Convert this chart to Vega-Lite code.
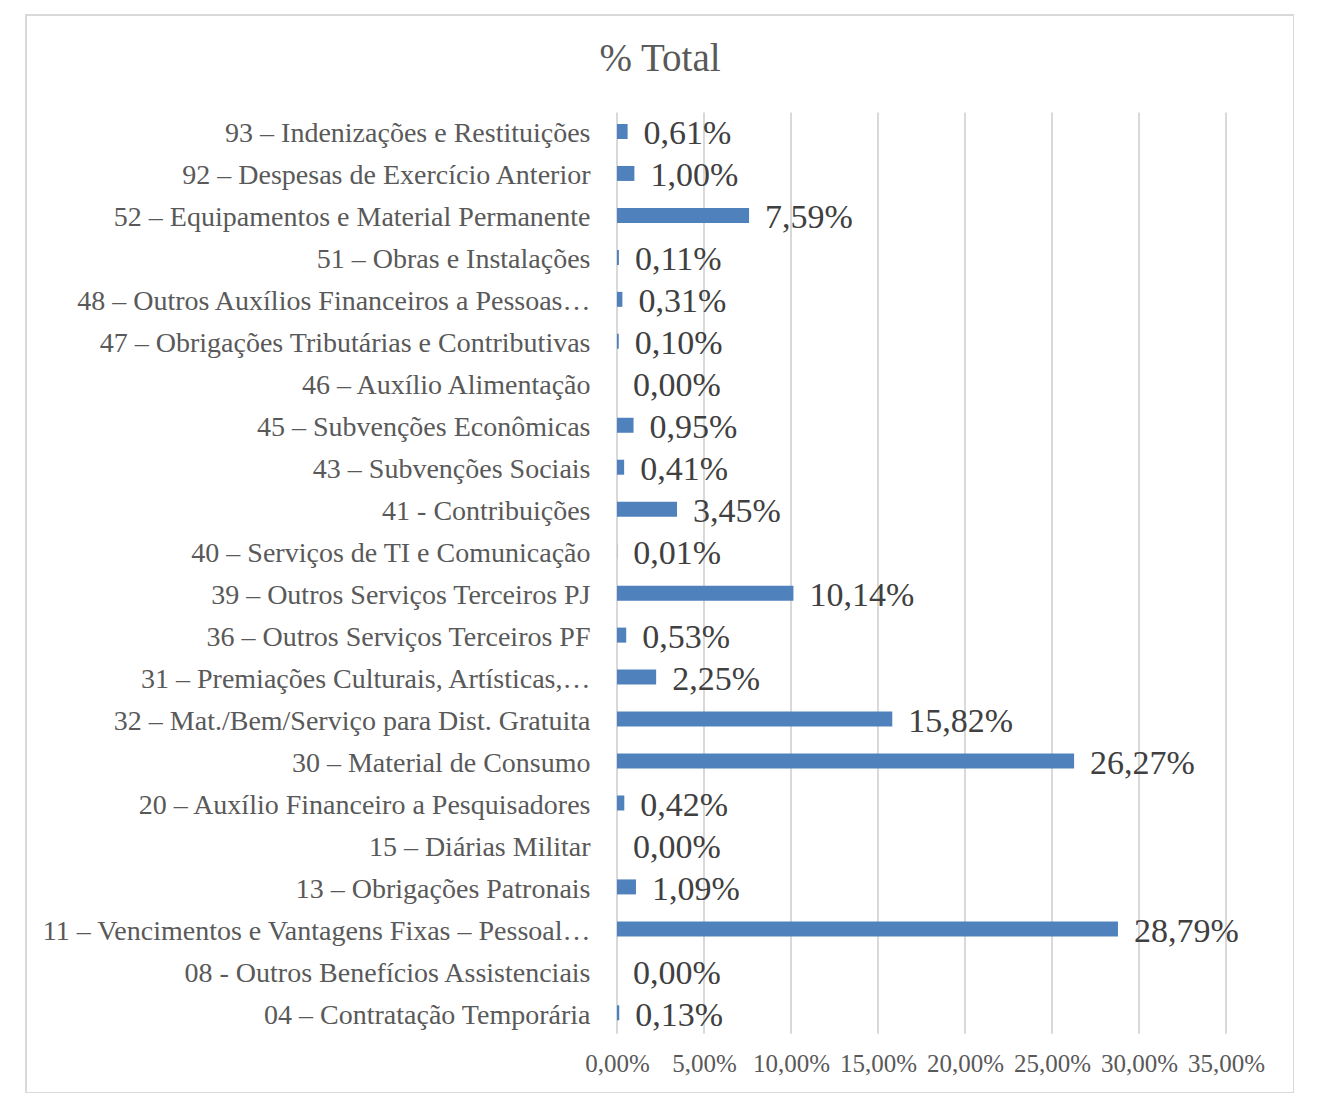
{
  "$schema": "https://vega.github.io/schema/vega-lite/v6.json",
  "autosize": {"type": "none"},
  "width": 1268,
  "height": 1078,
  "padding": {"left": 26, "top": 15, "right": 0, "bottom": 0},
  "background": "white",
  "title": {
    "text": "% Total",
    "font": "Liberation Serif",
    "fontSize": 39,
    "fontWeight": "normal",
    "color": "#595959",
    "anchor": "middle",
    "offset": -64
  },
  "config": {
    "locale": {"number": {"decimal": ",", "thousands": ".", "grouping": [3], "currency": ["R$", ""]}},
    "view": {"stroke": "#d9d9d9", "strokeWidth": 2}
  },
  "datasets": {
    "gastos": [
      {"categoria": "93 – Indenizações e Restituições", "share": 0.0061},
      {"categoria": "92 – Despesas de Exercício Anterior", "share": 0.0100},
      {"categoria": "52 – Equipamentos e Material Permanente", "share": 0.0759},
      {"categoria": "51 – Obras e Instalações", "share": 0.0011},
      {"categoria": "48 – Outros Auxílios Financeiros a Pessoas…", "share": 0.0031},
      {"categoria": "47 – Obrigações Tributárias e Contributivas", "share": 0.0010},
      {"categoria": "46 – Auxílio Alimentação", "share": 0.0},
      {"categoria": "45 – Subvenções Econômicas", "share": 0.0095},
      {"categoria": "43 – Subvenções Sociais", "share": 0.0041},
      {"categoria": "41 - Contribuições", "share": 0.0345},
      {"categoria": "40 – Serviços de TI e Comunicação", "share": 0.0001},
      {"categoria": "39 – Outros Serviços Terceiros PJ", "share": 0.1014},
      {"categoria": "36 – Outros Serviços Terceiros PF", "share": 0.0053},
      {"categoria": "31 – Premiações Culturais, Artísticas,…", "share": 0.0225},
      {"categoria": "32 – Mat./Bem/Serviço para Dist. Gratuita", "share": 0.1582},
      {"categoria": "30 – Material de Consumo", "share": 0.2627},
      {"categoria": "20 – Auxílio Financeiro a Pesquisadores", "share": 0.0042},
      {"categoria": "15 – Diárias Militar", "share": 0.0},
      {"categoria": "13 – Obrigações Patronais", "share": 0.0109},
      {"categoria": "11 – Vencimentos e Vantagens Fixas – Pessoal…", "share": 0.2879},
      {"categoria": "08 - Outros Benefícios Assistenciais", "share": 0.0},
      {"categoria": "04 – Contratação Temporária", "share": 0.0013}
    ],
    "grade": [
      {"tick": 0}, {"tick": 0.05}, {"tick": 0.1}, {"tick": 0.15},
      {"tick": 0.2}, {"tick": 0.25}, {"tick": 0.3}, {"tick": 0.35}
    ]
  },
  "resolve": {"scale": {"y": "independent"}},
  "layer": [
    {
      "data": {"name": "grade"},
      "mark": {"type": "rule", "color": "#d9d9d9", "strokeWidth": 2},
      "encoding": {
        "x": {
          "field": "tick",
          "type": "quantitative",
          "title": null,
          "scale": {"domain": [0, 0.35], "range": [591, 1200], "nice": false, "zero": true}
        },
        "y": {
          "datum": 0,
          "type": "quantitative",
          "scale": {"domain": [0, 1], "range": [97.5, 1018.8], "nice": false, "zero": false},
          "axis": null
        },
        "y2": {"datum": 1}
      }
    },
    {
      "data": {"name": "gastos"},
      "encoding": {
        "y": {
          "field": "categoria",
          "type": "nominal",
          "sort": null,
          "title": null,
          "scale": {"range": [95.5, 1018.8], "paddingInner": 0, "paddingOuter": 0},
          "axis": {
            "orient": "left",
            "offset": -591,
            "ticks": false,
            "domain": false,
            "grid": false,
            "labelPadding": 27,
            "labelOffset": 3,
            "labelLimit": 0,
            "labelFont": "Liberation Serif",
            "labelFontSize": 28,
            "labelColor": "#595959"
          }
        },
        "x": {
          "field": "share",
          "type": "quantitative",
          "title": null,
          "scale": {"domain": [0, 0.35], "range": [591, 1200], "nice": false, "zero": true},
          "axis": {
            "values": [0, 0.05, 0.1, 0.15, 0.2, 0.25, 0.3, 0.35],
            "format": ".2%",
            "orient": "bottom",
            "offset": -60,
            "ticks": false,
            "domain": false,
            "grid": false,
            "labelPadding": 18,
            "labelFont": "Liberation Serif",
            "labelFontSize": 25,
            "labelColor": "#595959",
            "labelFlush": false
          }
        }
      },
      "layer": [
        {"mark": {"type": "bar", "size": 15, "color": "#4f81bd"}},
        {
          "mark": {"type": "text", "align": "left", "baseline": "middle", "dx": 16, "dy": 3, "font": "Liberation Serif", "fontSize": 34, "color": "#404040"},
          "encoding": {"text": {"field": "share", "type": "quantitative", "format": ".2%"}}
        }
      ]
    }
  ]
}
